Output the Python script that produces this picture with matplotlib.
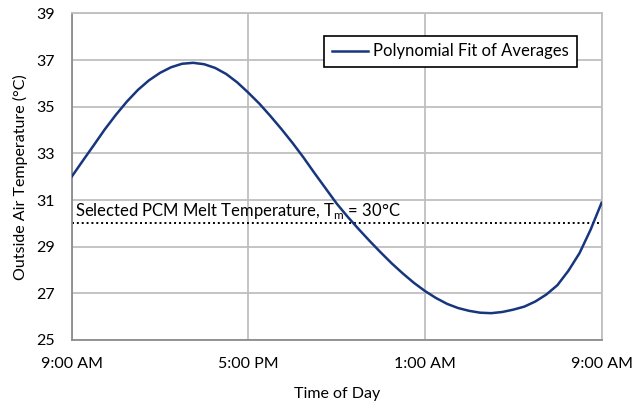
import numpy as np
import matplotlib as mpl
mpl.use('Agg')
import matplotlib.pyplot as plt

plt.rcParams['font.family'] = ['Lato', 'DejaVu Sans']

# hours after 9:00 AM, every half hour
hours = [0, 0.5, 1, 1.5, 2, 2.5, 3, 3.5, 4, 4.5, 5, 5.5, 6, 6.5, 7, 7.5,
         8, 8.5, 9, 9.5, 10, 10.5, 11, 11.5, 12, 12.5, 13, 13.5, 14, 14.5,
         15, 15.5, 16, 16.5, 17, 17.5, 18, 18.5, 19, 19.5, 20, 20.5, 21,
         21.5, 22, 22.5, 23, 23.5, 24]
temps = [32.0, 32.68, 33.35, 34.03, 34.65, 35.22, 35.72, 36.13, 36.45,
         36.69, 36.84, 36.88, 36.82, 36.66, 36.4, 36.04, 35.6, 35.13, 34.6,
         34.04, 33.45, 32.82, 32.15, 31.5, 30.85, 30.28, 29.75, 29.24, 28.75,
         28.28, 27.85, 27.45, 27.1, 26.8, 26.55, 26.37, 26.25, 26.17, 26.15,
         26.2, 26.3, 26.43, 26.65, 26.95, 27.35, 27.97, 28.72, 29.72, 30.88]

x_ticks = [0, 8, 16, 24]
x_labels = ['9:00 AM', '5:00 PM', '1:00 AM', '9:00 AM']
y_ticks = [25, 27, 29, 31, 33, 35, 37, 39]
melt_temp = 30

fig = plt.figure(figsize=(6.42, 4.05), dpi=100)
ax = fig.add_axes([0.1117, 0.1605, 0.8253, 0.8065])

ax.plot(hours, temps, color='#17367d', lw=1.8, label='Polynomial Fit of Averages', zorder=3)
ax.plot([0, 24], [melt_temp, melt_temp], color='black', lw=1.4, ls=(0, (1, 1.5)), zorder=2)
ax.text(0.15, melt_temp + 0.12, 'Selected PCM Melt Temperature, T$_\\mathregular{m}$ = 30°C',
        fontsize=12, va='bottom', ha='left', zorder=2)

ax.set_xlim(0, 24)
ax.set_ylim(25, 39)
ax.set_xticks(x_ticks)
ax.set_xticklabels(x_labels)
ax.set_yticks(y_ticks)
ax.tick_params(length=0, labelsize=11.5, pad=12)
ax.grid(True, color='#bfbfbf', lw=1.3)
ax.set_axisbelow(True)
for s in ['top', 'right']:
    ax.spines[s].set_color('#bfbfbf')
    ax.spines[s].set_linewidth(1.3)
for s in ['left', 'bottom']:
    ax.spines[s].set_color('#8c8c8c')
    ax.spines[s].set_linewidth(1.3)

ax.set_xlabel('Time of Day', fontsize=11.5, labelpad=12)
ax.set_ylabel('Outside Air Temperature (°C)', fontsize=11.5, labelpad=6)

leg = ax.legend(loc='upper right', bbox_to_anchor=(0.953, 0.931), fontsize=12,
                fancybox=False, framealpha=1, edgecolor='black', handlelength=2.2,
                borderpad=0.45, handletextpad=0.3, borderaxespad=0)
leg.get_frame().set_linewidth(1.2)

fig.savefig('out.png', dpi=100)
